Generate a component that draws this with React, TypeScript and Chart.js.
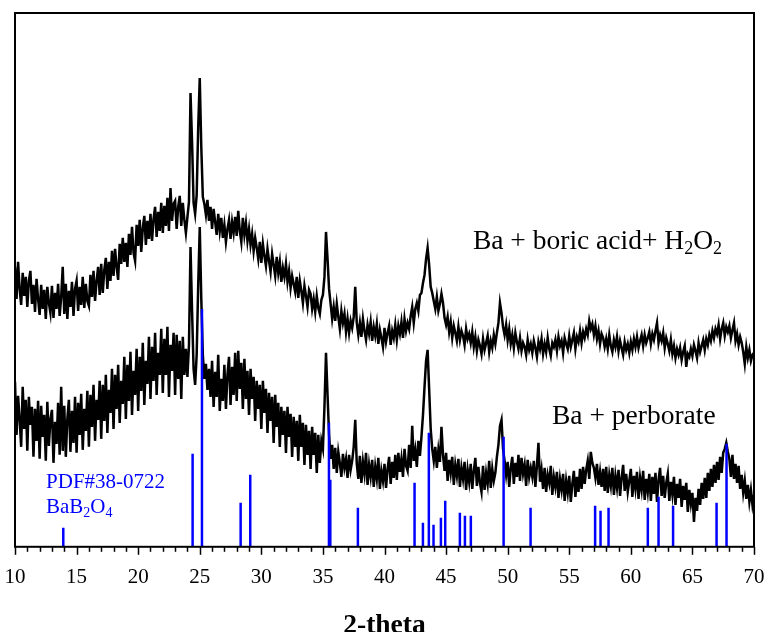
import React, { useEffect, useRef } from "react";
import { Chart, registerables } from "chart.js";

Chart.register(...registerables);

// 2-theta grid of the measured traces
const START_ANGLE = 10;
const STEP_ANGLE = 0.125;

// Ba + boric acid + H2O2 (upper trace), arbitrary intensity units, 8 points per degree
const boricTrace = [
  280, 248, 285, 258, 242, 274, 251, 270, // 10
  240, 266, 276, 243, 262, 235, 268, 248, // 11
  232, 262, 238, 257, 228, 260, 244, 234, // 12
  261, 229, 254, 238, 263, 231, 250, 280, // 13
  233, 263, 228, 256, 240, 265, 231, 258, // 14
  266, 236, 260, 242, 270, 239, 263, 246, // 15
  241, 272, 250, 276, 246, 266, 280, 252, // 16
  283, 254, 277, 289, 258, 285, 266, 296, // 17
  271, 298, 280, 267, 303, 283, 309, 285, // 18
  304, 280, 313, 292, 320, 294, 286, 322, // 19
  301, 327, 295, 319, 331, 302, 326, 308, // 20
  333, 306, 328, 340, 310, 335, 316, 344, // 21
  314, 341, 321, 349, 316, 359, 326, 343, // 22
  346, 318, 340, 351, 321, 344, 327, 314, // 23
  330, 345, 454, 405, 344, 333, 352, 420, // 24
  469, 400, 350, 343, 332, 347, 326, 340, // 25
  318, 338, 325, 312, 333, 316, 329, 309, // 26
  322, 305, 318, 327, 308, 325, 314, 330, // 27
  311, 336, 316, 305, 329, 312, 324, 306, // 28
  318, 302, 313, 296, 309, 299, 288, 305, // 29
  284, 303, 291, 281, 298, 286, 275, 293, // 30
  282, 271, 290, 274, 285, 265, 279, 270, // 31
  283, 265, 276, 259, 271, 263, 255, 270, // 32
  249, 266, 256, 244, 261, 251, 240, 257, // 33
  253, 238, 248, 235, 251, 239, 233, 247, // 34
  252, 270, 315, 288, 258, 243, 228, 240, // 35
  226, 243, 230, 218, 236, 224, 233, 215, // 36
  228, 214, 226, 219, 230, 260, 224, 212, // 37
  224, 210, 228, 216, 207, 222, 213, 225, // 38
  206, 220, 211, 223, 203, 217, 209, 200, // 39
  219, 205, 214, 221, 202, 216, 209, 222, // 40
  207, 221, 213, 225, 209, 228, 216, 224, // 41
  218, 231, 240, 224, 238, 244, 236, 252, // 42
  254, 264, 272, 288, 299, 282, 260, 254, // 43
  246, 238, 250, 236, 243, 253, 244, 229, // 44
  222, 230, 215, 225, 209, 221, 214, 206, // 45
  220, 207, 216, 211, 202, 218, 208, 213, // 46
  204, 215, 200, 210, 196, 207, 201, 193, // 47
  208, 197, 204, 211, 195, 206, 199, 212, // 48
  203, 214, 224, 244, 234, 220, 212, 222, // 49
  207, 218, 203, 212, 199, 214, 205, 198, // 50
  209, 196, 204, 200, 192, 207, 197, 203, // 51
  194, 206, 199, 190, 205, 198, 208, 193, // 52
  203, 195, 209, 198, 191, 204, 200, 207, // 53
  196, 210, 201, 206, 194, 209, 203, 198, // 54
  211, 200, 207, 214, 198, 210, 205, 216, // 55
  204, 215, 209, 218, 212, 226, 218, 223, // 56
  212, 221, 208, 216, 203, 213, 209, 200, // 57
  208, 198, 212, 201, 195, 207, 200, 210, // 58
  196, 206, 199, 192, 205, 197, 203, 194, // 59
  205, 197, 208, 200, 210, 199, 206, 212, // 60
  201, 212, 204, 209, 215, 203, 213, 207, // 61
  216, 224, 204, 212, 206, 214, 199, 209, // 62
  203, 196, 207, 193, 201, 189, 198, 192, // 63
  199, 187, 195, 201, 180, 193, 190, 198, // 64
  191, 202, 196, 189, 204, 195, 201, 207, // 65
  197, 208, 202, 212, 206, 216, 209, 218, // 66
  213, 222, 208, 218, 224, 211, 220, 215, // 67
  221, 209, 217, 224, 206, 213, 202, 210, // 68
  204, 195, 183, 200, 189, 197, 186, 192, // 69
  194,                                    // 70
];

// Ba + perborate (lower trace), 8 points per degree
const perborateTrace = [
  165, 112, 151, 128, 100, 160, 118, 147, // 10
  96, 150, 122, 140, 90, 138, 106, 146,   // 11
  88, 141, 110, 132, 86, 145, 101, 128,   // 12
  137, 84, 125, 103, 144, 92, 160, 96,    // 13
  141, 90, 128, 147, 95, 136, 104, 150,   // 14
  94, 144, 112, 153, 97, 138, 116, 156,   // 15
  100, 152, 120, 162, 106, 147, 127, 166, // 16
  108, 162, 126, 172, 114, 157, 134, 178, // 17
  118, 172, 138, 182, 124, 166, 143, 190, // 18
  128, 182, 146, 195, 132, 176, 152, 198, // 19
  136, 190, 156, 204, 142, 186, 163, 210, // 20
  148, 200, 166, 214, 152, 194, 172, 218, // 21
  154, 208, 172, 220, 150, 202, 176, 214, // 22
  152, 212, 168, 206, 148, 210, 172, 198, // 23
  170, 202, 300, 236, 178, 162, 192, 262, // 24
  320, 248, 192, 168, 183, 157, 178, 150, // 25
  186, 140, 175, 150, 192, 136, 168, 146, // 26
  182, 138, 172, 190, 142, 180, 152, 194, // 27
  146, 196, 158, 184, 138, 188, 148, 176, // 28
  132, 178, 148, 170, 126, 166, 138, 162, // 29
  118, 166, 134, 158, 114, 154, 126, 150, // 30
  104, 152, 120, 144, 100, 140, 112, 136, // 31
  94, 140, 110, 133, 90, 130, 100, 126,   // 32
  86, 132, 100, 124, 82, 122, 92, 116,    // 33
  78, 120, 92, 114, 74, 112, 84, 106,     // 34
  98, 140, 194, 152, 112, 88, 102, 78,    // 35
  99, 74, 95, 84, 70, 93, 79, 88,         // 36
  69, 92, 77, 86, 100, 127, 83, 68,       // 37
  91, 64, 85, 73, 94, 62, 82, 70,         // 38
  87, 60, 80, 68, 89, 58, 76, 66,         // 39
  83, 59, 78, 90, 63, 85, 69, 92,         // 40
  67, 94, 75, 88, 70, 98, 81, 76,         // 41
  102, 79, 121, 86, 97, 80, 106, 91,      // 42
  110, 132, 160, 186, 197, 158, 118, 98,  // 43
  86, 100, 79, 97, 85, 120, 92, 76,       // 44
  94, 66, 87, 74, 90, 62, 82, 71,         // 45
  88, 60, 79, 68, 85, 57, 77, 65,         // 46
  83, 58, 76, 89, 61, 80, 64, 55,         // 47
  81, 57, 74, 63, 86, 59, 78, 66,         // 48
  74, 90, 102, 121, 127, 98, 86, 72,      // 49
  85, 60, 79, 90, 63, 84, 70, 92,         // 50
  66, 89, 73, 82, 61, 87, 70, 79,         // 51
  70, 86, 60, 81, 104, 65, 77, 58,        // 52
  79, 55, 72, 64, 81, 52, 70, 60,         // 53
  75, 49, 68, 57, 73, 46, 66, 54,         // 54
  71, 45, 63, 76, 50, 70, 55, 78,         // 55
  58, 80, 63, 77, 86, 68, 95, 84,         // 56
  79, 69, 83, 62, 75, 60, 78, 56,         // 57
  80, 54, 72, 61, 79, 52, 71, 59,         // 58
  77, 51, 69, 82, 56, 73, 55, 66,         // 59
  78, 50, 71, 58, 75, 48, 69, 57,         // 60
  76, 47, 68, 55, 73, 46, 70, 53,         // 61
  74, 45, 67, 79, 51, 71, 49, 64,         // 62
  73, 46, 65, 52, 70, 42, 63, 49,         // 63
  68, 40, 61, 47, 64, 35, 57, 43,         // 64
  54, 25, 49, 36, 58, 42, 64, 48,         // 65
  69, 49, 74, 56, 78, 60, 82, 64,         // 66
  85, 67, 90, 74, 94, 98, 104, 95,        // 67
  88, 70, 92, 68, 83, 64, 81, 58,         // 68
  72, 54, 66, 48, 62, 45, 57, 42,         // 69
  52,                                     // 70
];

// PDF#38-0722 BaB2O4 reference lines
const refPositions = [
  13.92, 24.42, 25.18, 28.32, 29.1, 35.49, 35.6, 37.84, 42.44, 43.12, 43.6,
  43.98, 44.58, 44.93, 46.12, 46.53, 47.01, 49.67, 51.86, 57.1, 57.54, 58.19,
  61.38, 62.25, 63.43, 66.96, 67.77,
];
const refHeights = [
  19, 93, 238, 44, 72, 124, 67, 39, 64, 24, 114,
  22, 29, 46, 34, 31, 31, 110, 39, 41, 36, 39,
  39, 50, 41, 44, 103,
];

const X_MIN = 10;
const X_MAX = 70;
const X_STEP = 5;
const Y_MAX = 534;

const SERIF = "'Liberation Serif', 'Times New Roman', serif";

const decorPlugin = {
  id: "decor",
  afterDraw(chart: any) {
    const { ctx, chartArea } = chart;
    const xs = chart.scales.x;
    const ys = chart.scales.y;
    ctx.save();
    // frame
    ctx.strokeStyle = "#000";
    ctx.lineWidth = 2;
    ctx.strokeRect(chartArea.left, chartArea.top, chartArea.right - chartArea.left, chartArea.bottom - chartArea.top);
    // ticks (major every 5, minor every 1)
    ctx.lineWidth = 1.5;
    for (let v = X_MIN; v <= X_MAX; v += 1) {
      const px = Math.round(xs.getPixelForValue(v)) + 0.5;
      const len = v % 5 === 0 ? 8 : 5;
      ctx.beginPath();
      ctx.moveTo(px, chartArea.bottom);
      ctx.lineTo(px, chartArea.bottom + len);
      ctx.stroke();
    }
    // annotations
    const drawRich = (parts: [string, boolean][], x: number, y: number, size: number, color: string) => {
      let cx = x;
      ctx.fillStyle = color;
      ctx.textBaseline = "alphabetic";
      ctx.textAlign = "left";
      for (const [t, sub] of parts) {
        const fs = sub ? Math.round(size * 0.65) : size;
        ctx.font = `${fs}px ${SERIF}`;
        ctx.fillText(t, cx, sub ? y + size * 0.2 : y);
        cx += ctx.measureText(t).width;
      }
    };
    drawRich(
      [["Ba + boric acid+ H", false], ["2", true], ["O", false], ["2", true]],
      xs.getPixelForValue(47.18), ys.getPixelForValue(298), 27.5, "#000"
    );
    drawRich([["Ba + perborate", false]], xs.getPixelForValue(53.6), ys.getPixelForValue(123), 27.5, "#000");
    drawRich([["PDF#38-0722", false]], xs.getPixelForValue(12.52), ys.getPixelForValue(59), 21, "#0000ff");
    drawRich(
      [["BaB", false], ["2", true], ["O", false], ["4", true]],
      xs.getPixelForValue(12.52), ys.getPixelForValue(34), 21, "#0000ff"
    );
    ctx.restore();
  },
};

export default function App() {
  const ref = useRef<HTMLCanvasElement | null>(null);
  useEffect(() => {
    if (!ref.current) return;
    const toPoints = (arr: number[]) => arr.map((y, i) => ({ x: START_ANGLE + i * STEP_ANGLE, y }));
    const sticks: any[] = [];
    refPositions.forEach((p, i) => {
      sticks.push({ x: p, y: 0 }, { x: p, y: refHeights[i] }, { x: p, y: null });
    });
    const chart = new Chart(ref.current, {
      type: "line",
      data: {
        datasets: [
          {
            label: "PDF#38-0722",
            data: sticks,
            borderColor: "#0000ff",
            borderWidth: 2.5,
            pointRadius: 0,
            spanGaps: false,
            order: 0,
          },
          {
            label: "Ba + boric acid + H2O2",
            data: toPoints(boricTrace),
            borderColor: "#000",
            borderWidth: 2.5,
            pointRadius: 0,
            tension: 0,
            order: 1,
          },
          {
            label: "Ba + perborate",
            data: toPoints(perborateTrace),
            borderColor: "#000",
            borderWidth: 2.5,
            pointRadius: 0,
            tension: 0,
            order: 2,
          },
        ],
      },
      options: {
        animation: false,
        responsive: false,
        maintainAspectRatio: false,
        layout: { padding: { left: 15, right: 16, top: 13, bottom: 0 } },
        plugins: { legend: { display: false }, tooltip: { enabled: false }, title: { display: false } },
        scales: {
          x: {
            type: "linear",
            min: X_MIN,
            max: X_MAX,
            grid: { display: false, drawTicks: true, tickLength: 16 },
            border: { display: false },
            ticks: {
              stepSize: X_STEP,
              color: "#000",
              padding: 2,
              maxRotation: 0,
              font: { family: SERIF, size: 21 },
            },
            title: {
              display: true,
              text: "2-theta",
              color: "#000",
              font: { family: SERIF, size: 27.5, weight: "bold" },
              padding: { top: 17, bottom: 0 },
            },
          },
          y: { display: false, min: 0, max: Y_MAX },
        },
      },
      plugins: [decorPlugin],
    });
    return () => chart.destroy();
  }, []);
  return (
    <div style={{ position: "absolute", left: 0, top: 0, width: 770, height: 632, overflow: "hidden", background: "#fff" }}>
      <canvas ref={ref} width={770} height={642} style={{ display: "block" }} />
    </div>
  );
}
